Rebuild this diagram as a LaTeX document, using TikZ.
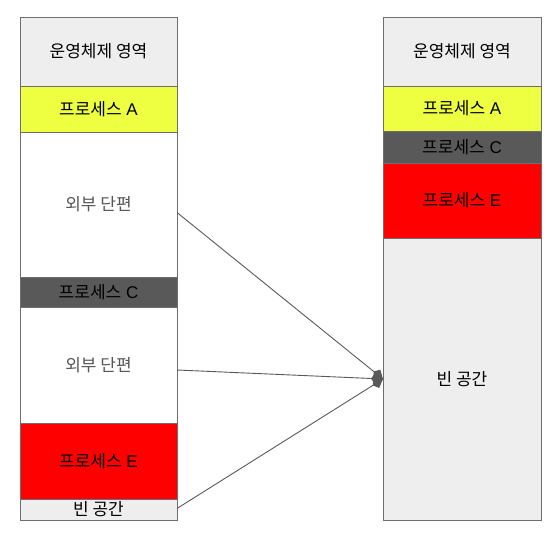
\documentclass[tikz,border=0pt]{standalone}
\usepackage{fontspec}
\setmainfont{Liberation Sans}
\newfontfamily\kr{Noto Sans CJK KR}
\usetikzlibrary{arrows.meta}
\definecolor{osgray}{HTML}{EEEEEE}
\definecolor{procA}{HTML}{EEFF41}
\definecolor{procC}{HTML}{595959}
\definecolor{procE}{HTML}{FF0000}
\definecolor{edge}{HTML}{6E6E6E}
\definecolor{fragtext}{HTML}{555555}

\begin{document}
\begin{tikzpicture}[x=1pt,y=-1pt,
  cell/.style={draw=edge,line width=1pt,anchor=north west,inner sep=0pt,outer sep=0pt,
    minimum width=157pt,font=\fontsize{17}{19}\selectfont},
  move/.style={draw=procC,line width=0.9pt,-{Kite[length=12pt,width=11pt,inset=4pt]}}]
\useasboundingbox (0,0) rectangle (560,536);
% before compaction
\node[cell,fill=osgray,minimum height=69pt] (os1) at (20,17) {\kr 운영체제 영역};
\node[cell,fill=procA,minimum height=46pt] (a1) at (20,86) {{\kr 프로세스} A};
\node[cell,fill=white,minimum height=145pt,text=fragtext] (frag1) at (20,132) {\kr 외부 단편};
\node[cell,fill=procC,minimum height=30pt] (c1) at (20,277) {{\kr 프로세스} C};
\node[cell,fill=white,minimum height=116pt,text=fragtext] (frag2) at (20,307) {\kr 외부 단편};
\node[cell,fill=procE,minimum height=76pt] (e1) at (20,423) {{\kr 프로세스} E};
\node[cell,fill=osgray,minimum height=21pt] (free1) at (20,499) {\kr 빈 공간};
% after compaction
\node[cell,fill=osgray,minimum height=69pt,minimum width=158pt] (os2) at (383,17) {\kr 운영체제 영역};
\node[cell,fill=procA,minimum height=45pt,minimum width=158pt] (a2) at (383,86) {{\kr 프로세스} A};
\node[cell,fill=procC,minimum height=32pt,minimum width=158pt] (c2) at (383,131) {{\kr 프로세스} C};
\node[cell,fill=procE,minimum height=75pt,minimum width=158pt] (e2) at (383,163) {{\kr 프로세스} E};
\node[cell,fill=osgray,minimum height=282pt,minimum width=158pt] (free2) at (383,238) {\kr 빈 공간};
% arrows
\draw[move] ([yshift=-8pt]frag1.east) -- (free2.west);
\draw[move] ([yshift=-5pt]frag2.east) -- (free2.west);
\draw[move] ([yshift=1pt]free1.east) -- (free2.west);
\end{tikzpicture}
\end{document}
